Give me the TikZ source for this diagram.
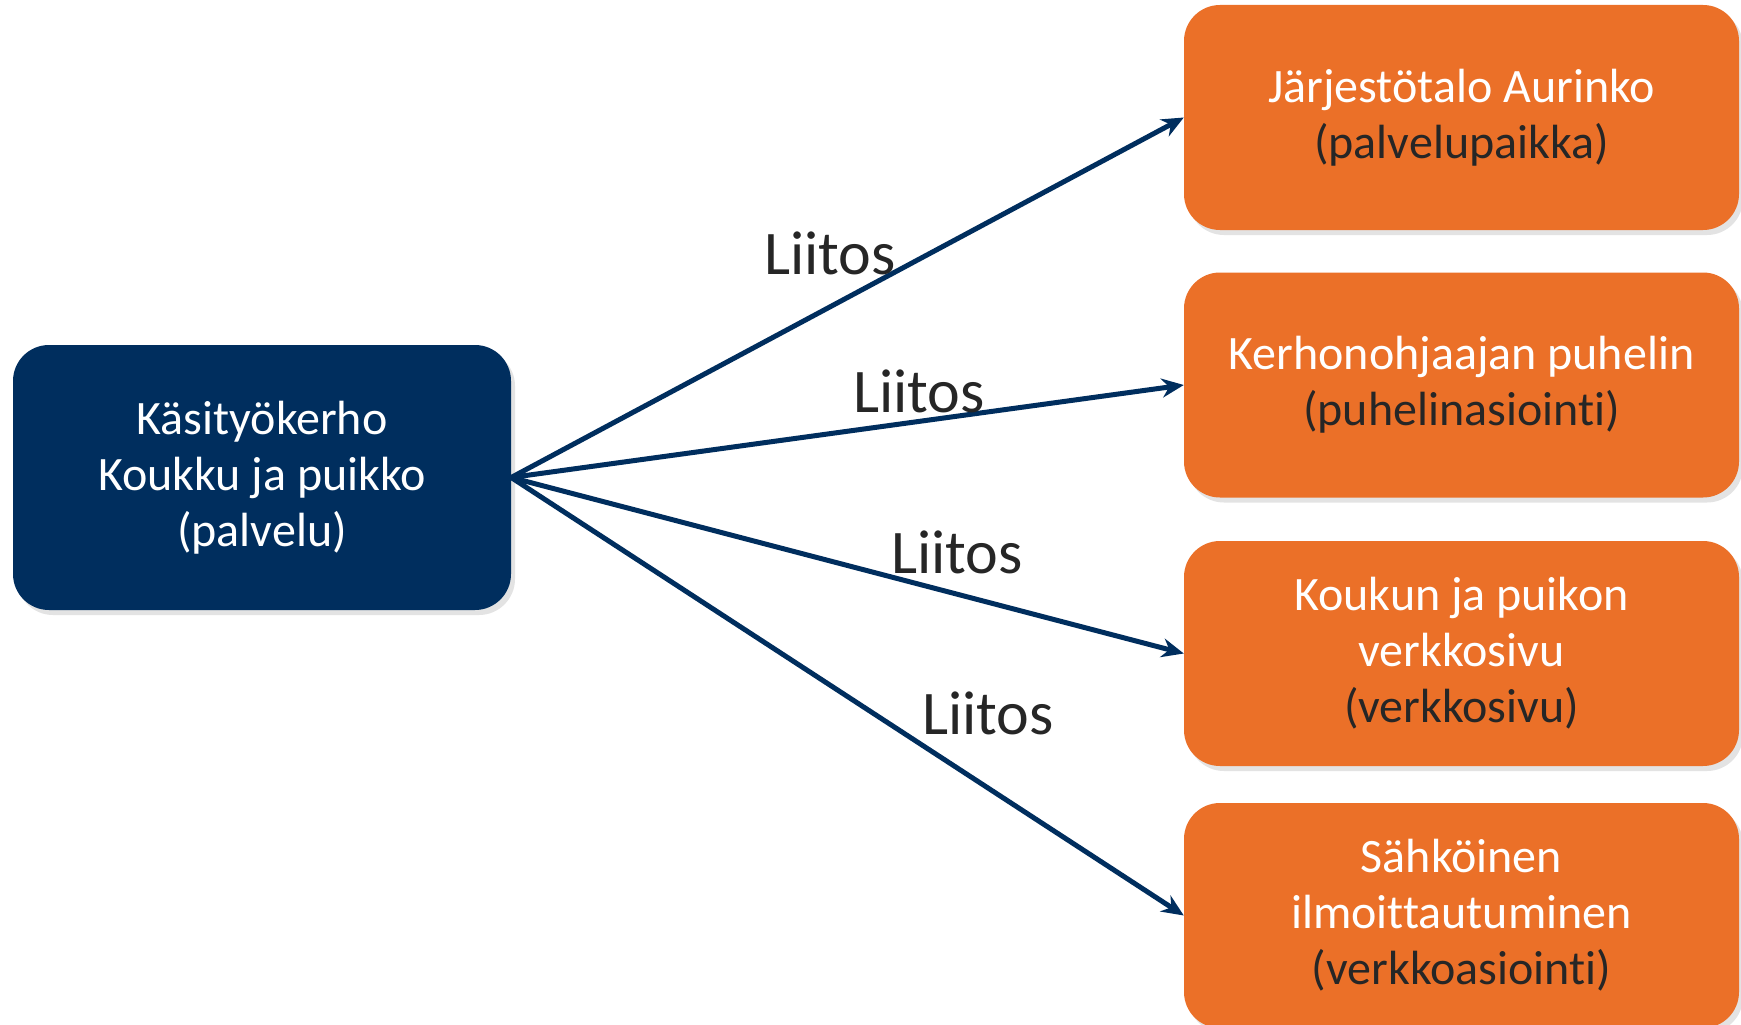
\documentclass[tikz,border=0pt]{standalone}
\usepackage{fontspec}
\setmainfont[Ligatures={NoCommon}]{Carlito}
\usetikzlibrary{arrows.meta,shadows}
\definecolor{navy}{HTML}{002E5E}
\definecolor{orng}{HTML}{EB7028}
\definecolor{dk}{HTML}{262626}
\begin{document}
\begin{tikzpicture}[x=1pt,y=-1pt,
  box/.style={rounded corners=36pt, inner sep=0pt, align=center,
    font=\fontsize{48}{56}\selectfont,
    drop shadow={opacity=0.22, shadow xshift=4pt, shadow yshift=-5pt}},
  mainbox/.style={box, fill=navy, text=white, minimum width=498pt, minimum height=265pt},
  target/.style={box, fill=orng, text=white, minimum width=555pt, minimum height=225pt},
  arr/.style={navy, line width=5pt, -{Stealth[length=22pt,width=19pt]}},
  lbl/.style={font=\fontsize{62}{70}\selectfont, text=dk, inner sep=0pt}]
\useasboundingbox (0,0) rectangle (1741,1025);
\fill[white] (0,0) rectangle (1741,1025);
\node[mainbox] (m) at (262,477.5) {Käsityökerho\\Koukku ja puikko\\(palvelu)};
\node[target] (t1) at (1461.5,117.5) {Järjestötalo Aurinko\\\textcolor{dk}{(palvelupaikka)}};
\node[target] (t2) at (1461.5,385) {Kerhonohjaajan puhelin\\\textcolor{dk}{(puhelinasiointi)}};
\node[target] (t3) at (1461.5,653.5) {Koukun ja puikon\\verkkosivu\\\textcolor{dk}{(verkkosivu)}};
\node[target] (t4) at (1461.5,915.5) {Sähköinen\\ilmoittautuminen\\\textcolor{dk}{(verkkoasiointi)}};
\draw[arr] (m.east) -- (t1.west);
\draw[arr] (m.east) -- (t2.west);
\draw[arr] (m.east) -- (t3.west);
\draw[arr] (m.east) -- (t4.west);
\node[lbl] (l1) at (830,253) {Liitos};
\node[lbl] (l2) at (919,391) {Liitos};
\node[lbl] (l3) at (957,552) {Liitos};
\node[lbl] (l4) at (988,713) {Liitos};
\end{tikzpicture}
\end{document}
